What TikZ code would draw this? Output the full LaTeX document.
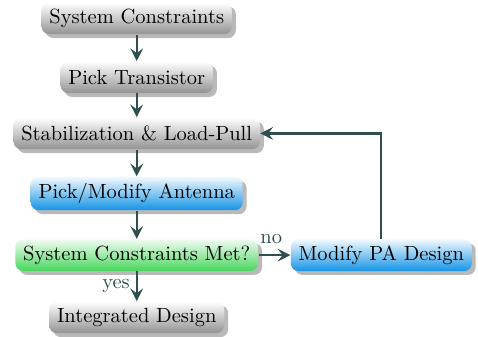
\documentclass[tikz,border=0pt]{standalone}
\usepackage{tikz}
\usetikzlibrary{arrows.meta, positioning, shadows}
\definecolor{linkgray}{RGB}{47,79,79}
\definecolor{boxblue}{RGB}{20,148,230}
\definecolor{boxgreen}{RGB}{72,214,92}

\tikzset{
    box/.style={rounded corners=4pt, minimum height=0.57cm, inner xsep=4pt,
        font=\fontsize{10.5pt}{12pt}\selectfont,
        drop shadow={shadow xshift=2pt, shadow yshift=-2pt, fill=gray!55, opacity=1}},
    graybox/.style={box, top color=white, bottom color=gray!85},
    bluebox/.style={box, top color=boxblue!5, bottom color=boxblue},
    greenbox/.style={box, top color=boxgreen!8, bottom color=boxgreen},
    link/.style={linkgray, line width=1.2pt, -{Stealth[length=6.5pt, width=6.5pt, inset=2.5pt]}},
    tag/.style={linkgray, font=\fontsize{10.5pt}{12pt}\selectfont, inner sep=1pt}
}

\begin{document}
\begin{tikzpicture}[scale=1.0]
        \useasboundingbox (0,0) rectangle (8.6,6.05);

        % Main column
        \node[graybox] (sc) at (2.46,5.72) {System Constraints};
        \node[graybox] (pt) at (2.46,4.66) {Pick Transistor};
        \node[graybox] (st) at (2.46,3.65) {Stabilization \& Load-Pull};
        \node[bluebox] (pa) at (2.46,2.57) {Pick/Modify Antenna};
        \node[greenbox] (met) at (2.46,1.46) {System Constraints Met?};
        \node[graybox] (int) at (2.46,0.34) {Integrated Design};

        % Side branch
        \node[bluebox] (mod) at (6.86,1.46) {Modify PA Design};

        % Connectors
        \draw[link] (sc) -- (pt);
        \draw[link] (pt) -- (st);
        \draw[link] (st) -- (pa);
        \draw[link] (pa) -- (met);
        \draw[link] (met) -- node[tag, above=4pt, pos=0.4] {no} (mod);
        \draw[link] (met) -- node[tag, left=2pt, pos=0.5] {yes} (int);
        \draw[link] (mod.north) |- (st.east);
\end{tikzpicture}
\end{document}
